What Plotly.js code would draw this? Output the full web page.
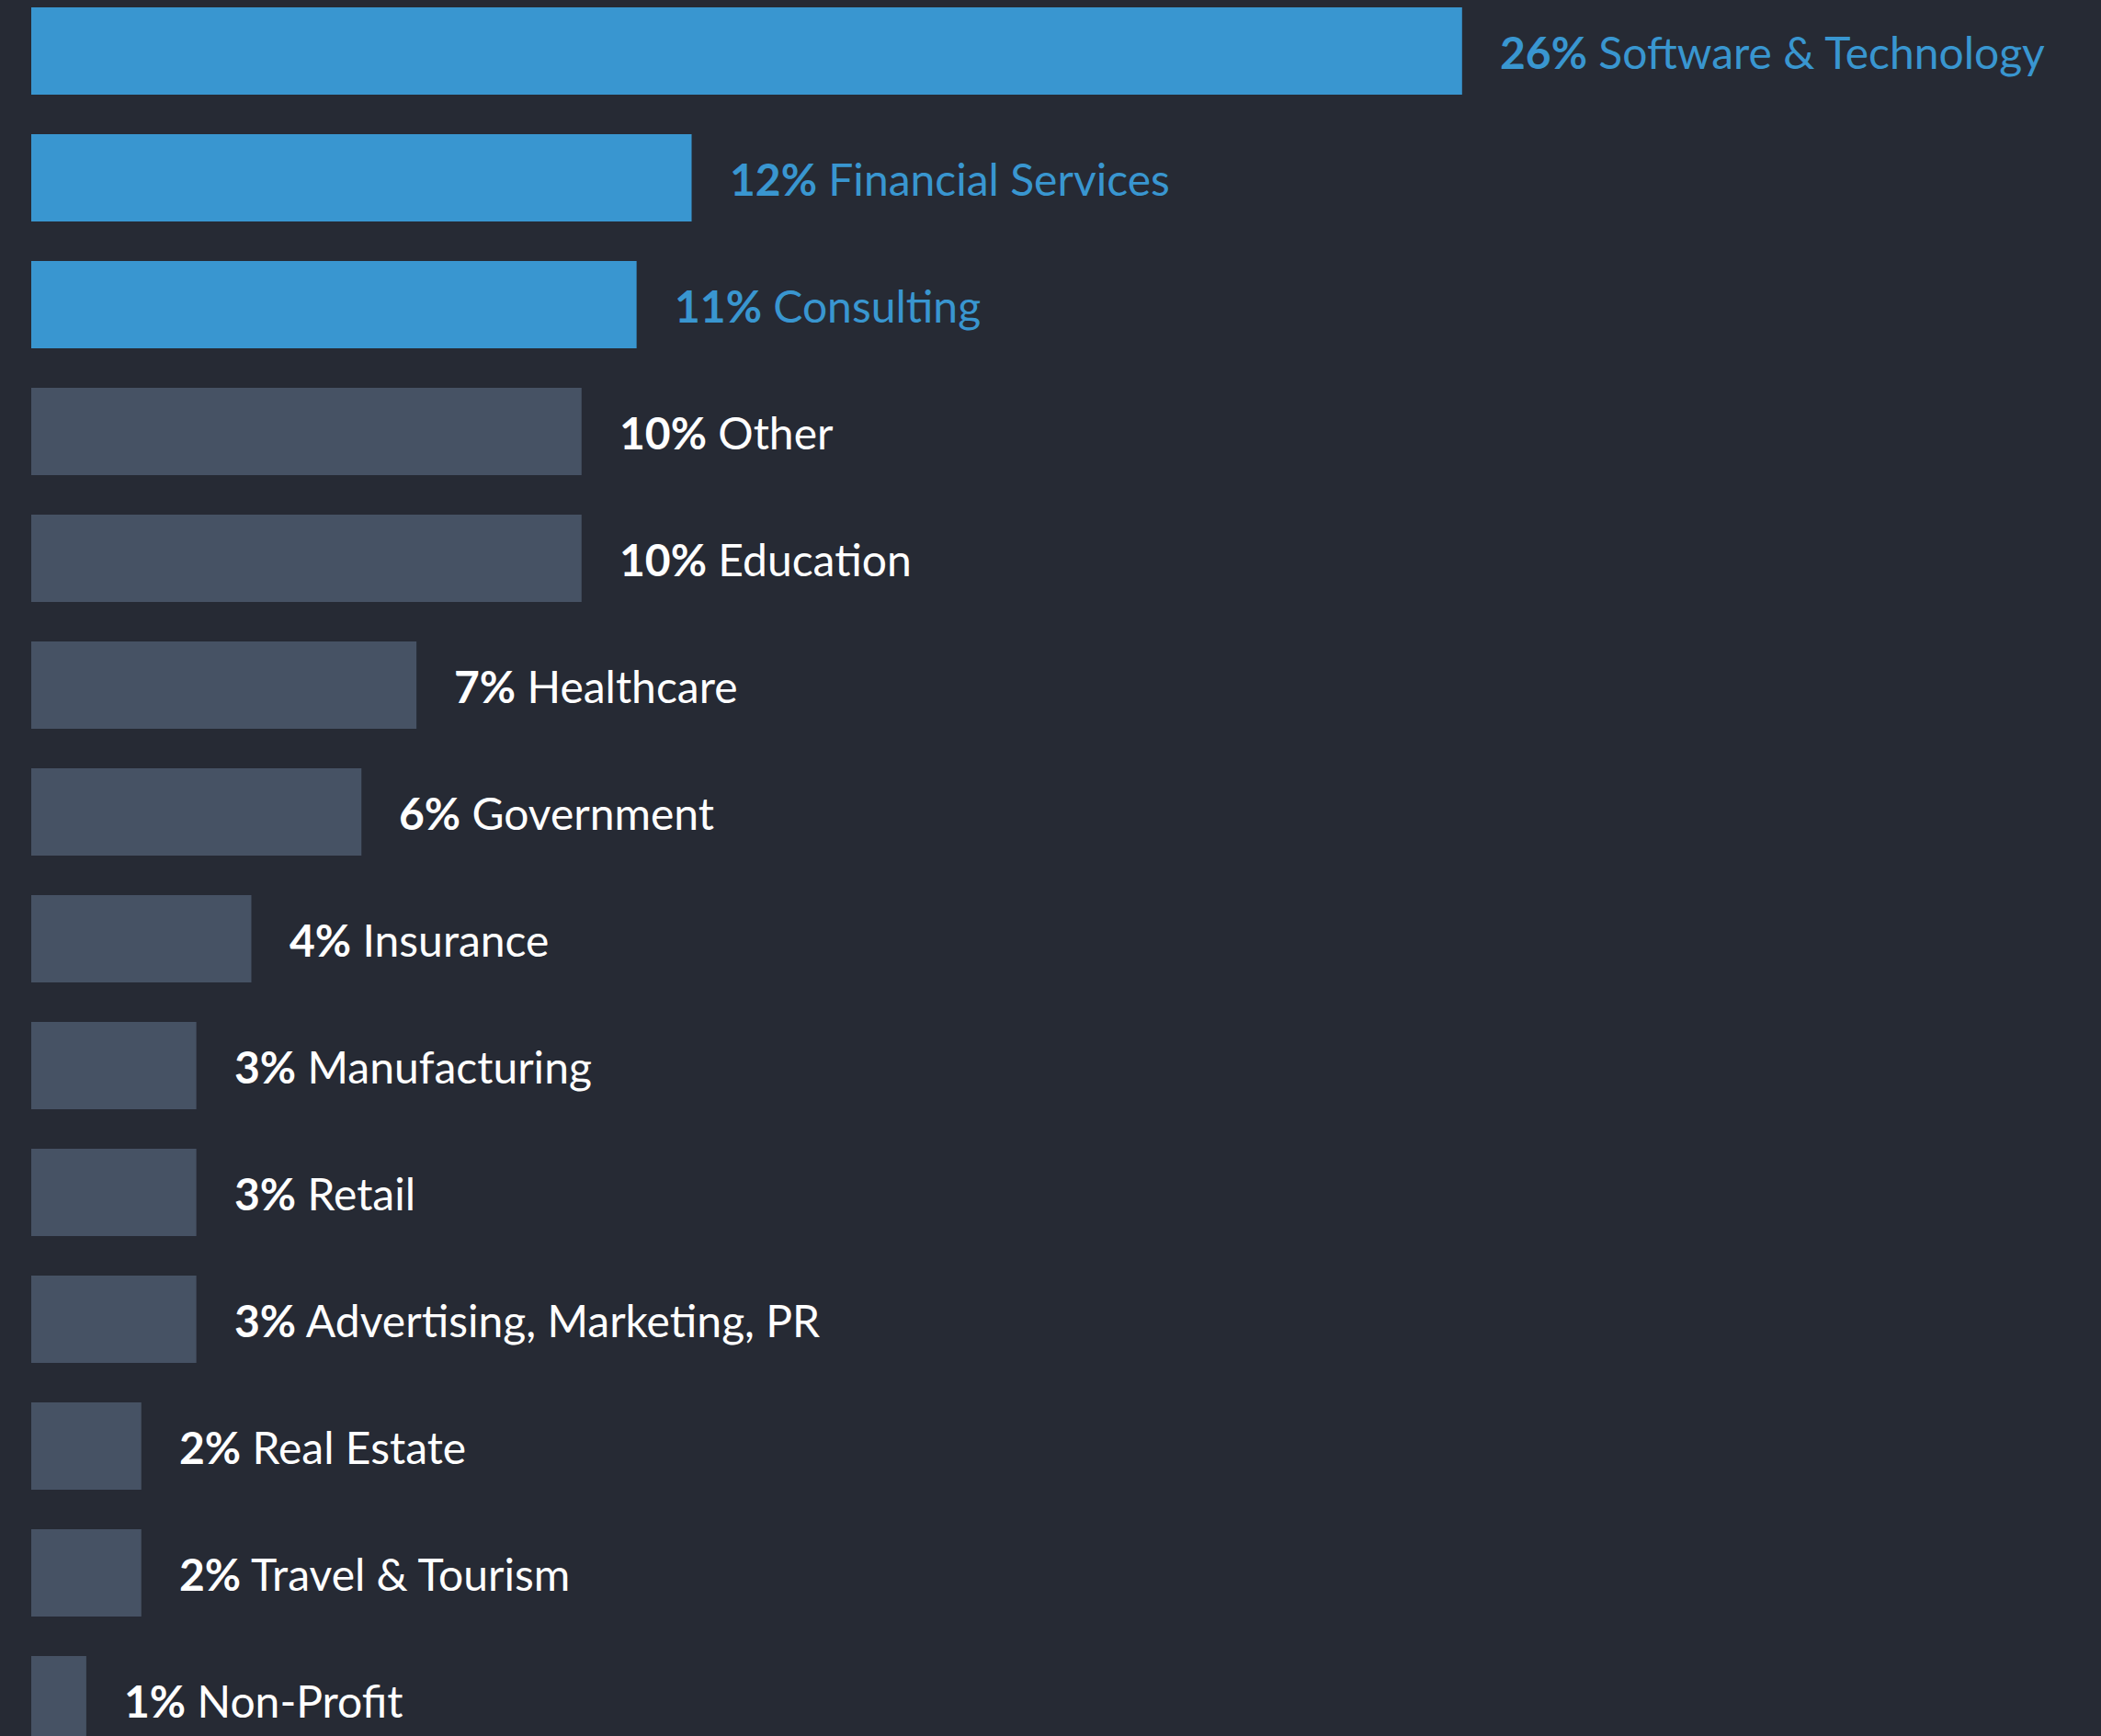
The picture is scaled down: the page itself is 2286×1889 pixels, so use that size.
<!DOCTYPE html>
<html><head><meta charset="utf-8">
<script src="https://cdn.plot.ly/plotly-3.0.1.min.js"></script>
<style>html,body{margin:0;padding:0;background:#262a34;overflow:hidden;}</style>
</head><body><div id="chart" style="width:2286px;height:1889px;"></div>
<script>
const industries = ["Software & Technology","Financial Services","Consulting","Other","Education","Healthcare","Government","Insurance","Manufacturing","Retail","Advertising, Marketing, PR","Real Estate","Travel & Tourism","Non-Profit"];
const shares = [26,12,11,10,10,7,6,4,3,3,3,2,2,1];
const highlightCount = 3;

const BLUE = '#3996d0', GREY = '#465264', BG = '#262a34';
const colors = industries.map((_, i) => i < highlightCount ? BLUE : GREY);

const trace = {
  type: 'bar', orientation: 'h',
  x: shares, y: industries,
  marker: {color: colors},
  hoverinfo: 'skip'
};

const annotations = industries.map((name, i) => ({
  x: shares[i], y: name, xref: 'x', yref: 'y',
  text: '<b>' + shares[i] + '%</b> ' + name,
  showarrow: false, xanchor: 'left', yanchor: 'middle',
  xshift: 39, yshift: -1,
  font: {family: 'Lato', size: 48, color: i < highlightCount ? BLUE : '#ffffff'}
}));

const layout = {
  width: 2286, height: 1889,
  margin: {l: 34, r: 0, t: 0, b: 0},
  paper_bgcolor: BG, plot_bgcolor: BG,
  bargap: 0.312,
  showlegend: false,
  xaxis: {range: [0, 37.61], visible: false, fixedrange: true},
  yaxis: {type: 'category', range: [13.286, -0.402], visible: false, fixedrange: true},
  annotations: annotations
};

Plotly.newPlot('chart', [trace], layout, {staticPlot: true, displayModeBar: false});
</script></body></html>
